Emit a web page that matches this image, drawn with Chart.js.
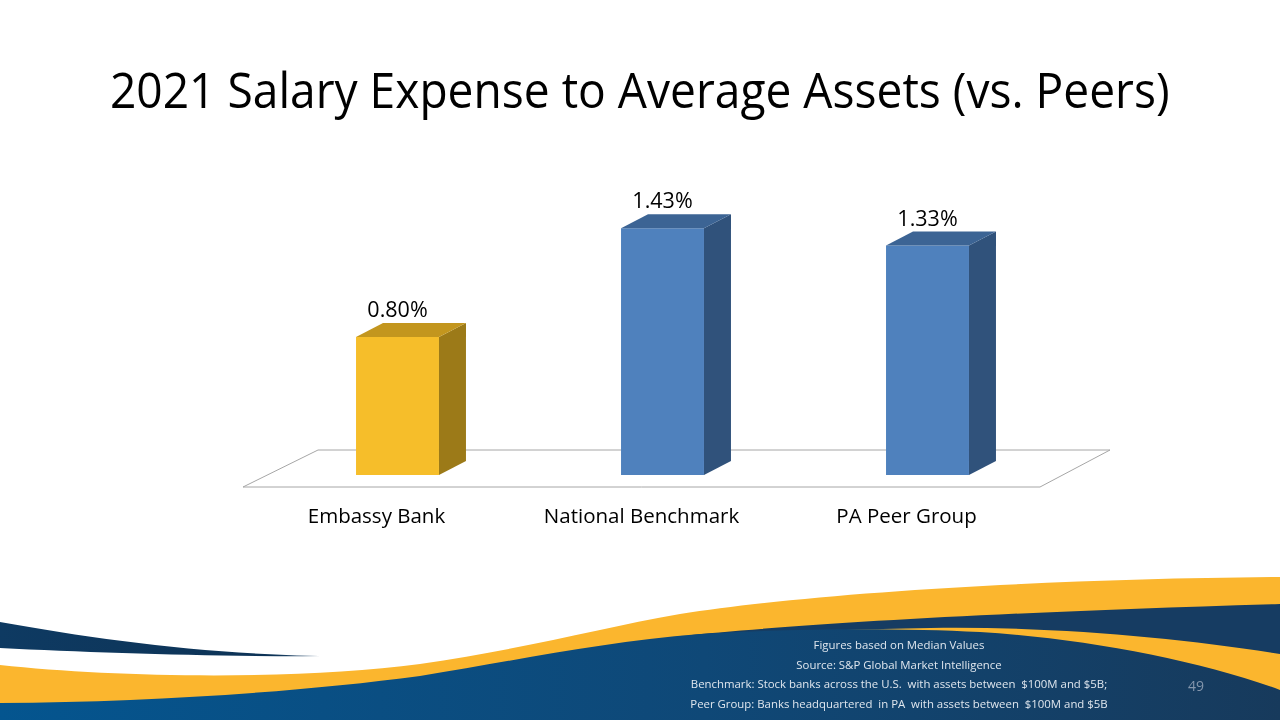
<!DOCTYPE html>
<html>
<head>
<meta charset="utf-8">
<script src="https://cdn.jsdelivr.net/npm/chart.js@4.4.1/dist/chart.umd.min.js"></script>
<style>
  html, body { margin: 0; padding: 0; background: #fff; }
  #slide { position: relative; width: 1280px; height: 720px; overflow: hidden; font-family: "Open Sans", sans-serif; }
  #swoosh { position: absolute; left: 0; top: 0; }
  #chart { position: absolute; left: 0; top: 0; }
  #title { position: absolute; left: 0; top: 56px; width: 1280px; text-align: center; font-size: 49px; color: #000; white-space: nowrap; }
  #title span { display: inline-block; transform-origin: center; }
  #notes { position: absolute; left: 599px; top: 635px; width: 600px; text-align: center; font-size: 11.4px; line-height: 19.7px; color: #dfe6ee; white-space: pre; }
  #page { position: absolute; left: 1180px; top: 676px; width: 32px; text-align: center; font-size: 14px; color: #8496ac; }
</style>
</head>
<body>
<div id="slide">
  <svg id="swoosh" width="1280" height="720">
    <defs>
      <linearGradient id="body" x1="0" y1="0" x2="1" y2="0">
        <stop offset="0" stop-color="#04558f"/>
        <stop offset="0.55" stop-color="#0f4877"/>
        <stop offset="1" stop-color="#173a5c"/>
      </linearGradient>
      <linearGradient id="tail" x1="0" y1="0" x2="1" y2="0">
        <stop offset="0" stop-color="#0e3a62"/>
        <stop offset="0.8" stop-color="#0d3356"/>
        <stop offset="1" stop-color="#4a6a8a"/>
      </linearGradient>
    </defs>
    <path d="M0,665 C120,678 300,680 420,664 C520,650 600,628 680,614 C820,592 1050,579 1280,577 L1280,720 L0,720 Z" fill="#fbb62e"/>
    <path d="M680,636 C800,624 1000,612 1280,604 L1280,654 C1180,638 1050,626 930,628 C820,630 740,634 680,636 Z" fill="#163c62"/>
    <path d="M0,703 C150,702 300,692 420,676 C520,660 600,642 700,634 C800,628 900,628 980,632 C1080,638 1200,660 1280,690 L1280,720 L0,720 Z" fill="url(#body)"/>
    <path d="M0,622 C100,640 220,656 340,656 C220,657 100,653 0,648 Z" fill="url(#tail)"/>
  </svg>
  <canvas id="chart" width="1280" height="720"></canvas>
  <div id="title"><span>2021 Salary Expense to Average Assets (vs. Peers)</span></div>
  <div id="notes">Figures based on Median Values
Source: S&amp;P Global Market Intelligence
Benchmark: Stock banks across the U.S.  with assets between  $100M and $5B;
Peer Group: Banks headquartered  in PA  with assets between  $100M and $5B</div>
  <div id="page">49</div>
</div>
<script>
// Chart data
const categories = ['Embassy Bank', 'National Benchmark', 'PA Peer Group'];
const values = [0.80, 1.43, 1.33];
const frontColors = ['#f6be2a', '#4f81bd', '#4f81bd'];
const topColors = ['#c3961e', '#3c6494', '#3c6494'];
const sideColors = ['#9c7a18', '#30527b', '#30527b'];

// fit title to the original width
const titleSpan = document.querySelector('#title span');
titleSpan.style.transform = 'scaleX(' + (1060 / titleSpan.offsetWidth) + ')';

const depthX = 27, depthY = -14;

// floor under the bars
const floorPlugin = {
    id: 'floor',
    beforeDatasetsDraw(chart) {
        const a = chart.chartArea;
        const ctx = chart.ctx;
        ctx.save();
        ctx.beginPath();
        ctx.moveTo(a.left - 22, a.bottom + 12);
        ctx.lineTo(a.right - 20, a.bottom + 12);
        ctx.lineTo(a.right + 50, a.bottom - 25);
        ctx.lineTo(a.left + 53, a.bottom - 25);
        ctx.closePath();
        ctx.fillStyle = '#fff';
        ctx.fill();
        ctx.strokeStyle = '#a6a6a6';
        ctx.lineWidth = 1;
        ctx.stroke();
        ctx.restore();
    }
};

// top and side faces plus value labels
const boxPlugin = {
    id: 'box3d',
    afterDatasetsDraw(chart) {
        const ctx = chart.ctx;
        const meta = chart.getDatasetMeta(0);
        ctx.save();
        meta.data.forEach((bar, i) => {
            const l = bar.x - bar.width / 2;
            const r = bar.x + bar.width / 2;
            const t = bar.y;
            const b = bar.base;

            ctx.fillStyle = sideColors[i];
            ctx.beginPath();
            ctx.moveTo(r, t);
            ctx.lineTo(r + depthX, t + depthY);
            ctx.lineTo(r + depthX, b + depthY);
            ctx.lineTo(r, b);
            ctx.closePath();
            ctx.fill();

            ctx.fillStyle = topColors[i];
            ctx.beginPath();
            ctx.moveTo(l, t);
            ctx.lineTo(r, t);
            ctx.lineTo(r + depthX, t + depthY);
            ctx.lineTo(l + depthX, t + depthY);
            ctx.closePath();
            ctx.fill();

            ctx.fillStyle = '#000';
            ctx.font = '21.5px "Open Sans"';
            ctx.textAlign = 'center';
            ctx.textBaseline = 'middle';
            ctx.fillText(values[i].toFixed(2) + '%', bar.x, t - 26);
        });
        ctx.restore();
    }
};

new Chart(document.getElementById('chart'), {
    type: 'bar',
    data: {
        labels: categories,
        datasets: [{
            data: values,
            backgroundColor: frontColors,
            borderWidth: 0,
            barPercentage: 0.313,
            categoryPercentage: 1
        }]
    },
    options: {
        responsive: false,
        animation: false,
        layout: { padding: { left: 265, right: 220, top: 199, bottom: 185 } },
        plugins: {
            legend: { display: false },
            tooltip: { enabled: false }
        },
        scales: {
            x: {
                grid: { display: false, drawTicks: false },
                border: { display: false },
                ticks: {
                    color: '#000',
                    font: { family: 'Open Sans', size: 20.5 },
                    padding: 30,
                    labelOffset: -21
                },
                afterFit(scale) { scale.height = 60; }
            },
            y: {
                display: false,
                min: 0,
                max: 1.6
            }
        }
    },
    plugins: [floorPlugin, boxPlugin]
});
</script>
</body>
</html>
